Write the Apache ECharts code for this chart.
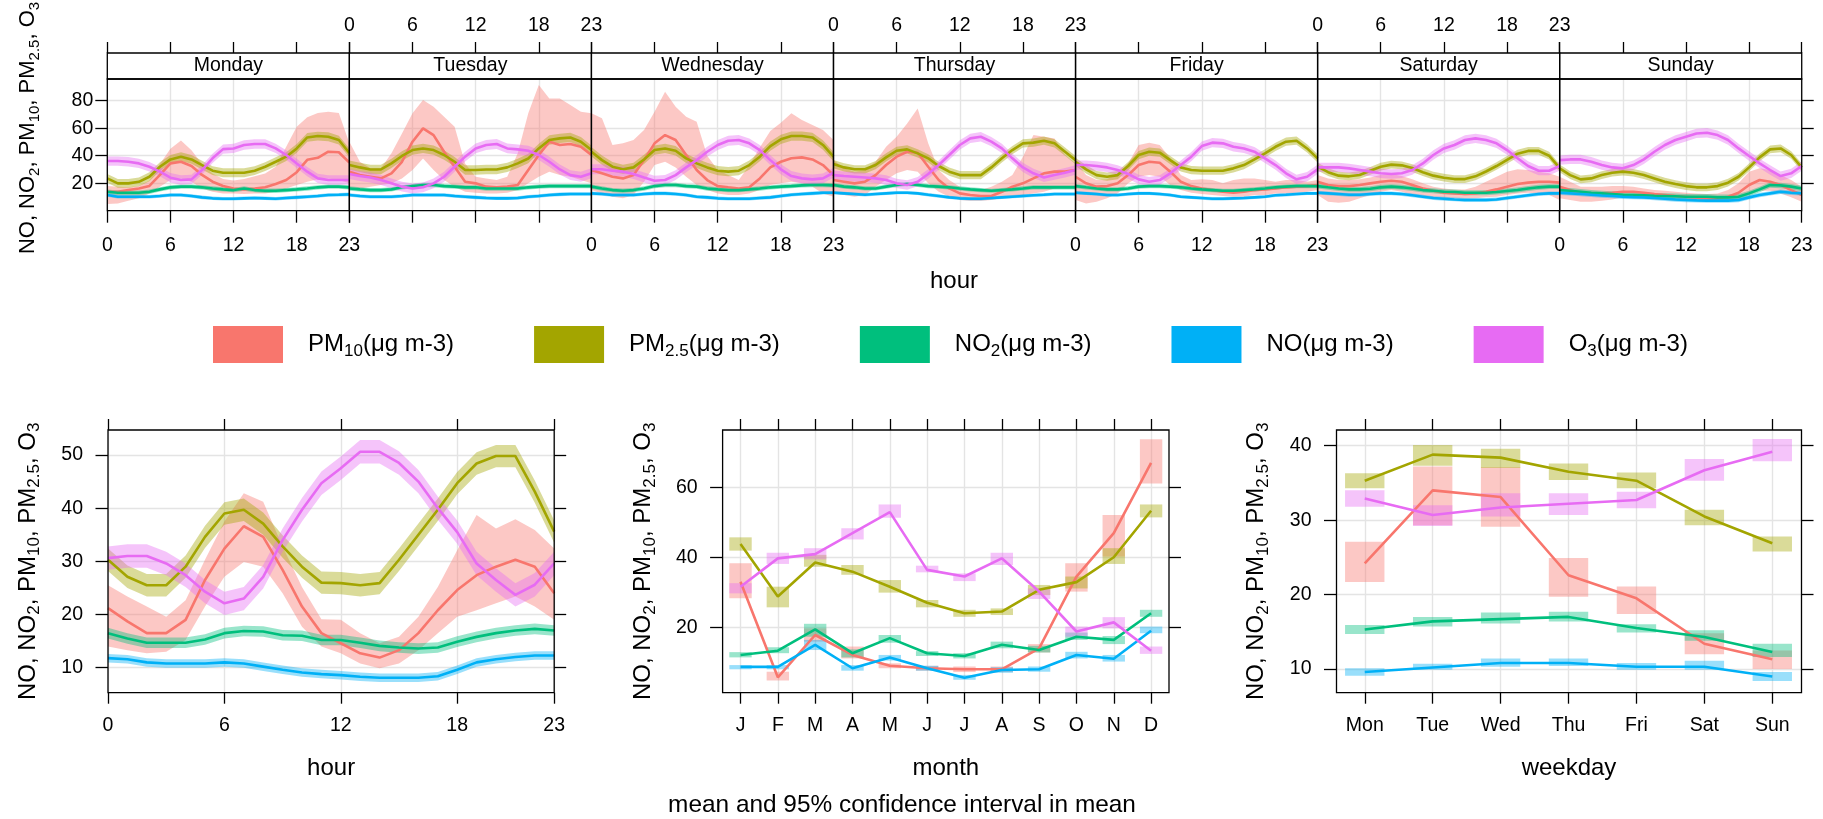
<!DOCTYPE html>
<html><head><meta charset="utf-8">
<script src="https://cdn.jsdelivr.net/npm/echarts@6/dist/echarts.min.js"></script>
<style>html,body{margin:0;padding:0;background:#fff}#c{width:1823px;height:819px}</style>
</head><body><div id="c"></div>
<script>
// ---------------- DATA ----------------
const hours = [0,1,2,3,4,5,6,7,8,9,10,11,12,13,14,15,16,17,18,19,20,21,22,23];
const hourTicks = [0,6,12,18,23];
const days = ['Monday','Tuesday','Wednesday','Thursday','Friday','Saturday','Sunday'];
const months = ['J','F','M','A','M','J','J','A','S','O','N','D'];
const monthPos = [1,2,3,4,5,6,7,8,9,10,11,12];
const weekdays = ['Mon','Tue','Wed','Thu','Fri','Sat','Sun'];
const weekdayPos = [1,2,3,4,5,6,7];
const pollutants = ['PM10','PM2.5','NO2','NO','O3'];
const colours = ['#F8766D','#A3A500','#00BF7D','#00B0F6','#E76BF3'];

// day x hour (top panel)
const wk_PM10 = [
 [13.8,13.8,15,16.2,18,26,34.4,35.6,32.5,26,21.1,18,16.2,15.5,16.2,17,19.4,22.3,28,37,38.5,42.9,42.5,35],
 [28.4,25.9,24.7,23.5,27.2,35.6,50.2,59.9,55,42.9,32,21.1,19.9,17.5,17,17.5,18.7,29.6,40.5,50.2,47.8,48.5,46.5,40.5],
 [29.6,27.2,24.7,23.5,25.9,36.8,49,55,51.4,40.5,29.6,22.3,17.9,17,16.2,17,23.5,31.5,35.6,38.1,38.8,37.3,33.2,25.9],
 [22.3,21.1,19.9,21.1,25.9,33.2,39.3,42.9,42.2,32,22.3,16.2,12.6,11.4,10.7,10.7,13.8,17.5,19.9,23.5,27.2,28.4,28.4,29.6],
 [24.7,19.9,17.5,17.9,19.9,25.9,33.2,35.6,34.9,28.4,21.1,17.9,16.2,15,13.8,13.1,13.8,15,15.5,16.2,17,17.5,17.9,18.7],
 [21.1,18.7,17.9,17.9,18.7,19.9,21.1,21.8,21.1,18.7,16.2,14.5,13.1,12.6,12.1,12.6,13.8,15.5,17.5,19.4,20.4,21.1,21.1,20.4],
 [17.5,15,12.6,12.1,12.6,13.1,13.8,13.8,13.1,12.1,11.4,10.7,10.2,9.7,9,9,10.2,13.1,18.7,22.3,21.1,18.7,15,11.4]];
const wk_PM10_hi = [
 [18,17.5,17,18,22,34,45,51,44,34,27,23,22,23,25,27,32,46.5,61,68,71,72,71,49],
 [50.2,35.6,30.8,30.8,41.7,56.2,70.8,80.5,75.6,68.4,61.1,34.4,24.7,23.5,22.3,24.7,41.7,70.8,91.4,81.7,81.7,76.8,72,70.8],
 [70.8,67.2,47.8,49,51.4,58.7,72,86.5,75.6,68.4,64.7,40,29.6,26,22.3,33,46,58,64,70.8,66,62.3,58.7,51.4],
 [36.8,30.8,28.4,29.6,35.6,46.5,53.8,63.5,74.4,49,29.6,22.3,17.5,15,15,17.5,21.1,25.9,39.3,55,53.8,52.6,40.5,34.4],
 [35.6,25.9,22.3,22.8,27.2,34.4,47.8,49.5,47.8,38.1,25.9,22.3,22.8,22.3,19.9,22.3,23.5,23.5,22.3,21.1,22.3,22.3,21.1,22.3],
 [25.9,23.5,22.3,22.3,22.8,24.2,25.9,26.7,25.2,22.8,19.9,17.5,16.2,15.5,15.5,17.5,21.1,24.7,28.4,30.1,29.6,28.4,27.2,24.7],
 [24.7,21.1,17.5,17.5,17.5,17.9,17.9,17.5,16.2,15,14.5,13.8,13.1,12.6,12.1,12.6,15,19.9,28.4,30.8,29.6,25.9,22.3,17.5]];
const wk_PM10_lo = [
 [4.8,5.3,7.3,9,12.6,17.5,22.3,23.5,21.1,16.2,13.8,12.6,12.6,12.1,12.6,12.6,13.8,16.2,18.7,21.1,22.8,23.5,22.3,19.9],
 [15,16.2,17.5,18.7,19.9,23.5,29.6,38,29.6,22.3,17.5,13.8,13.1,12.6,12.6,13.1,15,19.9,24.7,28.4,25.9,24.7,22.3,19.9],
 [15,12.6,10.2,9,11.4,21.1,33.2,35.6,31.5,24.7,18.7,15,12.6,11.4,11.4,12.6,15,18.7,19.9,21.1,19.9,17.5,12.6,10.2],
 [12.6,11.4,10.2,11.4,17.5,22.3,27.2,29.6,28.4,19.9,13.8,10.2,7.8,7.3,7.3,7.8,9,10.2,11.4,12.6,13.8,16.2,17.5,17.9],
 [7.8,5.3,6.5,9,12.6,19.9,24.7,25.9,24.7,18.7,15,13.1,12.1,11.4,10.7,10.2,10.2,11.4,11.4,12.6,12.6,13.1,13.8,15],
 [11.4,6.5,5.8,6.5,9,11.4,13.8,15,13.8,11.4,10.2,9.7,9.2,9,8.7,9,9.7,10.2,11.4,12.6,13.1,12.6,11.4,7.8],
 [9,7.8,6.5,6.5,7.3,8.2,9.7,9.7,9,8.2,7.8,7.3,7.3,7,6.5,6.5,7,8.7,11.4,14.5,14.5,12.6,9.7,6.5]];
const wk_PM25 = [
 [23.5,19.9,19.9,21,24.7,32,37.3,39.3,37.3,33.2,29.1,27.6,27.6,27.6,29.1,32,35.6,39.3,45.3,53.3,54.3,53.8,51.4,42],
 [33.2,31.5,30,30,34.4,39.8,44.1,45.3,44.1,40.5,35.6,29.6,29.6,30,30,31.5,34.4,38,45.3,51.4,52.6,53.3,50.2,44.1],
 [42.9,36.8,32,30.1,31.5,37.3,44.1,45.3,43.6,38.1,34.4,31.5,29.1,28.4,29.1,33.2,39.3,47,51.9,54.3,54.3,53.3,47.8,39.3],
 [33.9,31.5,30.1,30.1,33.2,38.8,43.6,44.6,41.7,38.1,32.5,28.4,25.9,25.9,25.9,31.5,38.1,44.1,49,49.5,50.9,49,42.9,36.8],
 [35.6,30.1,25.9,24.7,25.9,32.5,40.5,42.9,42.2,36.8,31.5,29.6,29.1,29.1,29.1,30.8,33.2,37.3,41.7,46.5,50.2,50.9,45.3,38.1],
 [32,28,25.5,25,26,29,32,33.5,33,31,28,25.5,24,23,23,25,28.5,32.5,37,41.5,43.5,43.5,40,31],
 [30.8,25.9,22.8,23.5,25.9,27.6,28.4,27.6,25.9,23.5,21.1,19.4,17.9,17,17,17.9,20.4,24.7,31.5,38.8,44.6,45.3,40.5,31.5]];
const wk_NO2 = [
 [13.8,13.1,13.1,13.1,13.8,15.5,17,17.5,17.5,17,16.2,15.5,15,16.2,15,14.5,14.5,15,15.5,16.2,17,17.5,17.5,17],
 [16.2,15.5,15,15,15.5,17,17.9,18.7,18.7,17.9,17.5,17,17,16.2,16.2,16.2,16.2,17,17.5,17.9,17.9,17.9,17.9,17.9],
 [17.5,16.2,15,14.5,15,16.2,17.9,18.7,18.7,17.9,17.5,16.2,15.5,15,15,15.5,16.2,17,17.5,17.9,18.4,18.7,18.7,18.4],
 [18.7,17.5,17,16.2,16.2,17.5,18.7,19.4,18.7,17.9,17.5,17,16.2,15.5,15,14.5,15,15.5,16.2,17,17,17,17,17],
 [17.9,17,16.2,15.5,15.5,16.2,17.5,17.9,17.9,17.5,17,16.2,15.5,15,14.5,14.5,15,15.5,16.2,17,17.5,17.9,17.9,17.9],
 [17.9,17,16.2,15.5,15.5,16,17,17.5,17,16.2,15,14.5,13.8,13.6,13.1,13.1,13.1,13.6,14.3,15,16.2,17,17.5,17.5],
 [15,14.5,13.8,13.1,12.6,12.1,11.6,11.4,11.2,10.9,10.7,10.5,10.2,10.2,10.2,9.7,9.7,10.2,12.6,15.5,18.7,18.4,17.5,16.2]];
const wk_NO = [
 [11.4,10.2,10.2,10.2,10.2,10.7,11.4,11.4,10.7,9.7,9,8.7,8.7,9,9.2,9,8.7,9.2,9.7,10.2,10.7,11.4,11.6,11.9],
 [11.4,10.7,10.2,10.2,10.2,10.7,11.4,11.4,11.4,11.4,10.7,10.2,9.7,9.2,9,9,9.2,10.2,10.7,11.4,11.9,12.1,12.1,12.1],
 [12.6,12.1,11.4,11.4,11.4,12.1,12.6,12.6,12.1,11.4,10.2,9.7,9,8.7,8.7,8.7,9.2,9.7,10.7,11.6,12.1,12.6,13.1,13.1],
 [13.1,12.6,12.1,11.6,12.1,12.6,13.1,13.1,12.6,11.6,10.7,9.7,9,8.7,8.7,9.2,9.7,10.2,10.7,11.2,11.6,12.1,12.1,12.1],
 [13.1,12.6,12.1,11.4,11.4,12.1,12.6,12.6,12.1,11.4,10.2,9.7,9.2,8.7,8.7,9,9.2,9.7,10.2,11.2,11.6,12.1,12.6,12.6],
 [13.1,12.6,12.1,11.6,11.6,12.1,12.6,12.6,12.1,11.2,10.2,9.2,8.7,8.2,7.8,7.8,7.8,8.2,9.2,10.2,11.2,12.1,12.6,12.6],
 [13.1,12.6,12.1,11.6,11.1,10.7,10.2,9.9,9.7,9.2,8.7,8.2,7.8,7.5,7.3,7.3,7.3,7.8,9.7,11.4,12.6,13.8,13.1,12.6]];
const wk_O3 = [
 [36.1,36.1,35.6,34.4,32,28.4,24,22.3,22.8,29.6,38.1,44.8,45.3,47.8,48.5,48.5,45.3,40.5,34.4,28.4,23.5,22.3,22.3,22.3],
 [26.7,25.2,24.2,22.3,19.9,17.5,16.2,17,19.9,24.7,32,39.3,45.3,47.8,48.5,45.3,44.6,43.6,40.5,35.6,30,25.9,24.7,27.2],
 [30.1,30.1,29.1,28.4,26.7,24.2,21.8,22.3,25.9,31.5,36.8,42.9,47.8,50.9,51.4,49,44.1,36.8,30.1,25.2,23.5,22.8,23.5,27.6],
 [25.9,25.2,24.7,24.2,23.5,22.3,19.9,18.7,21.1,26.7,33.2,40.5,47.8,52.6,53.8,50.2,45.3,38.1,31.5,27.2,24.2,25.9,27.6,29.6],
 [33.2,33.2,32.5,31.5,29.6,26.7,22.8,21.1,22.3,27.2,33.2,39.3,47,49.5,49,46.5,45.3,42.9,38.1,33.2,27.2,22.8,24.7,30.1],
 [31.5,31.5,31.5,30.8,29.6,28.4,27.2,26.7,27.2,29.6,34.4,40.5,45.3,47.8,51.4,52.6,51.4,49,44.1,38.1,32.5,29.1,29.1,32.5],
 [36.8,37.3,37.3,35.6,33.2,31.5,30.8,33.2,37.3,42.9,47.8,51.4,53.8,56.2,56.7,55,51.4,45.3,39.8,34.4,29.6,25.2,27.2,32.5]];
// half-width of the 95% CI (read per day)
const wk_PM25_ci = [3.2,3.4,3.4,3.0,3.0,2.8,2.8];
const wk_NO2_ci  = [1.6,1.6,1.6,1.5,1.5,1.8,2.0];
const wk_NO_ci   = [1.3,1.3,1.3,1.2,1.2,1.4,1.6];
const wk_O3_ci   = [3.4,3.6,3.6,3.4,3.4,3.4,3.4];

// hour panel
const hr_PM10    = [21.2,18.7,16.5,16.5,19,26.5,32.4,36.6,34.6,28.4,21.5,16.5,14.6,12.7,11.9,13.3,16.5,20.8,24.6,27.4,29,30.3,29,24];
const hr_PM10_hi = [25.5,23.4,21.5,19.6,22.7,30.3,37.5,42.8,41.2,32.8,25.2,19.1,19,16.5,14.6,15.8,19.6,25.2,32.1,38.7,36.2,37.9,35.9,32.4];
const hr_PM10_lo = [14,13.3,12.7,13,15.2,21.5,27.1,29.9,29,24,17.7,14,12.7,10.8,9.9,10.8,13.3,16.5,19.6,20.8,22.1,23.4,21.5,19];
const hr_PM25 = [30.3,27.1,25.5,25.5,29,34.6,39,39.7,37.1,32.8,29,26,25.9,25.5,25.9,30.3,35,39.7,44.7,48.4,49.8,49.8,43.1,35.6];
const hr_NO2  = [16.5,15.5,14.7,14.7,14.7,15.3,16.5,16.9,16.8,16.1,16,15.2,15.2,14.7,14.1,13.8,13.6,13.8,14.9,15.8,16.5,17,17.3,17];
const hr_NO   = [11.8,11.6,11,10.8,10.8,10.8,11,10.8,10.2,9.6,9.1,8.8,8.6,8.3,8.1,8.1,8.1,8.4,9.6,11,11.6,12,12.3,12.3];
const hr_O3   = [30.6,31,31,29.6,27.4,24.3,22.1,23,27.1,34,39.7,44.7,47.5,50.6,50.6,48.5,45,40,35.5,29.6,26.5,23.7,25.6,29.6];
const hr_PM25_ci = 2.1, hr_NO2_ci = 1.0, hr_NO_ci = 0.8, hr_O3_ci = 2.2;

// month panel
const mo_PM10    = [33.0,5.7,17.8,12.1,9.0,8.3,8.0,8.0,14.0,34.5,46.9,67.0];
const mo_PM10_lo = [28.3,4.8,15.9,11.1,8.3,7.6,7.2,7.2,12.8,30.2,40.2,61.1];
const mo_PM10_hi = [38.3,7.3,19.7,14.5,9.7,9.0,8.8,8.8,15.2,38.3,52.1,73.7];
const mo_PM25    = [43.8,28.8,38.5,35.9,31.6,27.0,24.0,24.5,30.7,32.9,40.0,53.3];
const mo_PM25_lo = [41.9,25.7,37.3,35.0,29.9,25.7,23.0,23.5,29.2,31.1,38.1,51.4];
const mo_PM25_hi = [45.7,31.6,40.7,37.8,33.5,27.8,25.0,25.4,32.1,34.5,42.6,55.1];
const mo_NO2     = [12.1,13.3,19.4,12.6,16.9,12.6,11.8,15.0,13.5,17.3,16.4,24.0];
const mo_NO2_lo  = [11.4,12.6,17.3,11.4,15.6,11.8,11.1,14.0,12.8,16.4,15.2,23.0];
const mo_NO2_hi  = [12.9,14.3,21.0,13.7,17.8,13.2,12.6,15.9,14.7,18.5,17.5,25.0];
const mo_NO      = [8.7,8.7,15.0,8.3,11.4,8.3,5.6,7.8,8.0,12.1,11.0,19.0];
const mo_NO_lo   = [8.0,8.0,13.5,7.6,10.5,7.6,5.0,7.0,7.3,11.1,10.2,18.3];
const mo_NO_hi   = [9.2,9.2,16.4,9.2,12.1,9.0,6.4,8.6,8.8,13.0,12.1,20.2];
const mo_O3      = [31.6,39.7,40.9,46.9,52.9,36.4,34.5,39.7,30.2,18.8,21.4,13.3];
const mo_O3_lo   = [29.7,38.1,39.4,45.1,51.3,35.7,33.2,37.8,28.1,17.3,19.7,12.4];
const mo_O3_hi   = [32.6,41.3,42.6,48.3,55.1,37.6,35.4,41.3,31.1,20.2,22.9,14.5];

// weekday panel
const wd_PM10    = [24.2,34.0,33.1,22.6,19.5,13.4,11.3];
const wd_PM10_lo = [21.7,29.3,29.1,19.7,17.4,12.0,10.0];
const wd_PM10_hi = [27.1,37.2,37.1,24.9,21.1,14.8,12.5];
const wd_PM25    = [35.3,38.8,38.4,36.5,35.3,30.5,26.9];
const wd_PM25_lo = [34.3,37.3,37.0,35.4,34.3,29.3,25.8];
const wd_PM25_hi = [36.3,40.1,39.6,37.6,36.4,31.4,27.8];
const wd_NO2     = [15.3,16.4,16.7,17.0,15.5,14.3,12.3];
const wd_NO2_lo  = [14.7,15.7,16.1,16.4,14.9,13.8,11.6];
const wd_NO2_hi  = [15.9,17.0,17.6,17.7,16.0,15.2,13.4];
const wd_NO      = [9.6,10.2,10.8,10.8,10.3,10.3,9.0];
const wd_NO_lo   = [9.1,9.9,10.3,10.4,9.9,9.9,8.4];
const wd_NO_hi   = [10.1,10.7,11.4,11.4,10.8,11.1,9.6];
const wd_O3      = [32.9,30.7,31.7,32.2,32.7,36.7,39.2];
const wd_O3_lo   = [31.8,29.2,30.5,30.7,31.6,35.3,37.9];
const wd_O3_hi   = [34.0,32.0,33.6,33.6,33.8,38.2,40.9];

const topYTicks = [20,40,60,80];
const hrYTicks = [10,20,30,40,50];
const moYTicks = [20,40,60];
const wdYTicks = [10,20,30,40];

// ---------------- BUILD ----------------
const FONT = "'Liberation Sans', Arial, Helvetica, sans-serif";
const BAND_ALPHA = 0.4;
const GRIDLINE = '#e4e4e4';
const LW = 2.6;
function rgba(hex, a){
  return 'rgba(' + parseInt(hex.slice(1,3),16) + ',' + parseInt(hex.slice(3,5),16) + ',' + parseInt(hex.slice(5,7),16) + ',' + a + ')';
}
const option = {animation:false, backgroundColor:'#fff', grid:[], xAxis:[], yAxis:[], series:[], graphic:[]};
const G = option.graphic;

function addGrid(l,t,w,h){
  option.grid.push({left:l, top:t, width:w, height:h, containLabel:false, outerBoundsMode:'none', show:false});
  return option.grid.length-1;
}
const TICK = {color:'#000', width:1.3};
const LBL = {color:'#000', fontSize:19.5, fontFamily:FONT};
function addX(g, o){
  const ax = {gridIndex:g, type:'value', min:o.min, max:o.max, position:o.pos||'bottom', offset:o.offset||0,
    axisLine:{show:false, onZero:false},
    axisTick:{show:o.ticks!==false, length:o.tlen||11, customValues:o.values, lineStyle:TICK},
    axisLabel:Object.assign({show:!!o.labels, customValues:o.values, margin:o.margin||23, formatter:o.fmt}, LBL),
    splitLine:{show:!!o.split, lineStyle:{color:GRIDLINE, width:1.4}}};
  if(!o.fmt) delete ax.axisLabel.formatter;
  option.xAxis.push(ax); return option.xAxis.length-1;
}
function addY(g, o){
  option.yAxis.push({gridIndex:g, type:'value', min:o.min, max:o.max, position:o.pos||'left',
    axisLine:{show:false, onZero:false},
    axisTick:{show:!!o.ticks, length:o.tlen||12, customValues:o.values, lineStyle:TICK},
    axisLabel:Object.assign({show:!!o.labels, customValues:o.values, margin:o.margin||24}, LBL),
    splitLine:{show:!!o.split, lineStyle:{color:GRIDLINE, width:1.4}}});
  return option.yAxis.length-1;
}
function band(xi, yi, xs, lo, hi, col){
  return {type:'custom', xAxisIndex:xi, yAxisIndex:yi, silent:true, z:2,
    data: xs.map((x,k)=>[x, lo[k], hi[k]]), encode:{x:0, y:[1,2]},
    renderItem:(params, api)=>{
      if(params.dataIndex!==0) return null;
      const pts=[];
      for(let k=0;k<xs.length;k++) pts.push(api.coord([xs[k], hi[k]]));
      for(let k=xs.length-1;k>=0;k--) pts.push(api.coord([xs[k], lo[k]]));
      return {type:'polygon', shape:{points:pts}, style:{fill:rgba(col,BAND_ALPHA)}};
    }};
}
function boxes(xi, yi, xs, lo, hi, col, hw){
  return {type:'custom', xAxisIndex:xi, yAxisIndex:yi, silent:true, z:2,
    data: xs.map((x,k)=>[x, lo[k], hi[k]]), encode:{x:0, y:[1,2]},
    renderItem:(params, api)=>{
      const x=api.value(0), l=api.value(1), h=api.value(2);
      const a=api.coord([x-hw, h]), b=api.coord([x+hw, l]);
      return {type:'rect', shape:{x:a[0], y:a[1], width:b[0]-a[0], height:b[1]-a[1]}, style:{fill:rgba(col,BAND_ALPHA)}};
    }};
}
function line(xi, yi, xs, ys, col, name, w){
  return {type:'line', name:name, xAxisIndex:xi, yAxisIndex:yi, silent:true, z:2,
    data: xs.map((x,k)=>[x, ys[k]]), symbol:'none', showSymbol:false,
    lineStyle:{color:col, width:w||LW}, itemStyle:{color:col}};
}
function borderRect(x,y,w,h){
  G.push({type:'rect', z:100, silent:true, shape:{x:x, y:y, width:w, height:h}, style:{fill:null, stroke:'#000', lineWidth:1.3}});
}
function txt(x,y,s,size,extra){
  G.push(Object.assign({type:'text', z:100, silent:true, x:x, y:y,
    style:{text:s, fontSize:size, fontFamily:FONT, fill:'#000', align:'center', verticalAlign:'middle', textAlign:'center', textVerticalAlign:'middle'}}, extra||{}));
}
const RICH = (size)=>({
  m:{fontSize:size, fontFamily:FONT, color:'#000', lineHeight:size+6, verticalAlign:'middle'},
  s:{fontSize:Math.round(size*0.7), fontFamily:FONT, color:'#000', lineHeight:Math.round(size*0.7), verticalAlign:'bottom'},
  sp:{width:20}
});
const YTITLE = '{m|NO, NO}{s|2}{m|, PM}{s|10}{m|, PM}{s|2.5}{m|, O}{s|3}';
function ytitle(x,y,size){
  G.push({type:'text', z:100, silent:true, x:x, y:y, rotation:Math.PI/2,
    style:{text:YTITLE, rich:RICH(size), fontSize:size, fontFamily:FONT, fill:'#000', align:'center', verticalAlign:'middle', textAlign:'center', textVerticalAlign:'middle'}});
}

// ---- top: day x hour panels ----
const TL = 107.3, TW = 242.06, TT = 79, TH = 131.7, STRIP_T = 53;
const wkMean = [wk_PM10, wk_PM25, wk_NO2, wk_NO, wk_O3];
const wkCi = [null, wk_PM25_ci, wk_NO2_ci, wk_NO_ci, wk_O3_ci];
for(let d=0; d<7; d++){
  const L = TL + d*TW;
  const g = addGrid(L, TT, TW, TH);
  const xb = addX(g, {min:0, max:23, values:hourTicks, labels:d%2===0, split:true, tlen:12, margin:25});
  addX(g, {min:0, max:23, values:hourTicks, labels:d%2===1, pos:'top', offset:TT-STRIP_T, tlen:11, margin:17});
  const yi = addY(g, {min:0, max:95.8, values:topYTicks, split:true, ticks:(d===0||d===6), labels:d===0, pos:d===6?'right':'left', margin:14});
  for(let p=0;p<5;p++){
    let lo, hi;
    if(p===0){ lo = wk_PM10_lo[d]; hi = wk_PM10_hi[d]; }
    else { const m = wkMean[p][d], c = wkCi[p][d]; lo = m.map(v=>v-c); hi = m.map(v=>v+c); }
    option.series.push(band(xb, yi, hours, lo, hi, colours[p]));
    option.series.push(line(xb, yi, hours, wkMean[p][d], colours[p], pollutants[p]));
  }
  borderRect(L, STRIP_T, TW, TT-STRIP_T);
  borderRect(L, TT, TW, TH);
  txt(L+TW/2, 66, days[d], 19.5);
}
ytitle(28, 128, 22);
txt(954, 281, 'hour', 24);

// ---- bottom-left: hour ----
const BT = 430, BH = 262.7;
{
  const L=108, W=446.2;
  const g = addGrid(L, BT, W, BH);
  const xb = addX(g, {min:0, max:23, values:hourTicks, labels:true, split:true, tlen:11, margin:23});
  addX(g, {min:0, max:23, values:hourTicks, pos:'top', tlen:11});
  const yi = addY(g, {min:5.3, max:54.7, values:hrYTicks, labels:true, ticks:true, split:true, tlen:12.5, margin:25});
  addY(g, {min:5.3, max:54.7, values:hrYTicks, ticks:true, pos:'right', tlen:12});
  const means = [hr_PM10, hr_PM25, hr_NO2, hr_NO, hr_O3];
  const cis = [null, hr_PM25_ci, hr_NO2_ci, hr_NO_ci, hr_O3_ci];
  for(let p=0;p<5;p++){
    let lo, hi;
    if(p===0){ lo = hr_PM10_lo; hi = hr_PM10_hi; }
    else { lo = means[p].map(v=>v-cis[p]); hi = means[p].map(v=>v+cis[p]); }
    option.series.push(band(xb, yi, hours, lo, hi, colours[p]));
    option.series.push(line(xb, yi, hours, means[p], colours[p], pollutants[p]));
  }
  borderRect(L, BT, W, BH);
  ytitle(28, BT+BH/2, 24);
  txt(L+W/2, 768, 'hour', 24);
}
// ---- bottom-middle: month ----
{
  const L=722.6, W=446.4;
  const g = addGrid(L, BT, W, BH);
  const xb = addX(g, {min:0.52, max:12.48, values:monthPos, labels:true, split:true, tlen:11, margin:23, fmt:(v)=>months[Math.round(v)-1]});
  addX(g, {min:0.52, max:12.48, values:monthPos, pos:'top', tlen:11});
  const yi = addY(g, {min:1.31, max:76.37, values:moYTicks, labels:true, ticks:true, split:true, tlen:12.5, margin:25});
  addY(g, {min:1.31, max:76.37, values:moYTicks, ticks:true, pos:'right', tlen:12});
  const m = [mo_PM10, mo_PM25, mo_NO2, mo_NO, mo_O3];
  const lo = [mo_PM10_lo, mo_PM25_lo, mo_NO2_lo, mo_NO_lo, mo_O3_lo];
  const hi = [mo_PM10_hi, mo_PM25_hi, mo_NO2_hi, mo_NO_hi, mo_O3_hi];
  for(let p=0;p<5;p++){
    option.series.push(boxes(xb, yi, monthPos, lo[p], hi[p], colours[p], 0.3));
    option.series.push(line(xb, yi, monthPos, m[p], colours[p], pollutants[p]));
  }
  borderRect(L, BT, W, BH);
  ytitle(643.5, BT+BH/2, 24);
  txt(L+W/2, 768, 'month', 24);
  txt(902, 805, 'mean and 95% confidence interval in mean', 24.4);
}
// ---- bottom-right: weekday ----
{
  const L=1336.5, W=465;
  const g = addGrid(L, BT, W, BH);
  const xb = addX(g, {min:0.584, max:7.43, values:weekdayPos, labels:true, split:true, tlen:11, margin:23, fmt:(v)=>weekdays[Math.round(v)-1]});
  addX(g, {min:0.584, max:7.43, values:weekdayPos, pos:'top', tlen:11});
  const yi = addY(g, {min:6.82, max:42.11, values:wdYTicks, labels:true, ticks:true, split:true, tlen:12.5, margin:25});
  addY(g, {min:6.82, max:42.11, values:wdYTicks, ticks:true, pos:'right', tlen:12});
  const m = [wd_PM10, wd_PM25, wd_NO2, wd_NO, wd_O3];
  const lo = [wd_PM10_lo, wd_PM25_lo, wd_NO2_lo, wd_NO_lo, wd_O3_lo];
  const hi = [wd_PM10_hi, wd_PM25_hi, wd_NO2_hi, wd_NO_hi, wd_O3_hi];
  for(let p=0;p<5;p++){
    option.series.push(boxes(xb, yi, weekdayPos, lo[p], hi[p], colours[p], 0.29));
    option.series.push(line(xb, yi, weekdayPos, m[p], colours[p], pollutants[p]));
  }
  borderRect(L, BT, W, BH);
  ytitle(1256.5, BT+BH/2, 24);
  txt(L+W/2, 768, 'weekday', 24);
}

// ---- legend ----
const legendLabels = {
  'PM10':'{sp| }{m|PM}{s|10}{m|(μg m-3)}',
  'PM2.5':'{sp| }{m|PM}{s|2.5}{m|(μg m-3)}',
  'NO2':'{sp| }{m|NO}{s|2}{m|(μg m-3)}',
  'NO':'{sp| }{m|NO(μg m-3)}',
  'O3':'{sp| }{m|O}{s|3}{m|(μg m-3)}'
};
option.legend = {
  left:213, top:326, orient:'horizontal', itemWidth:70, itemHeight:37, itemGap:80, icon:'rect',
  selectedMode:false, padding:0,
  data: pollutants.map((p,i)=>({name:p, icon:'rect', itemStyle:{color:colours[i], borderWidth:0, opacity:1}})),
  formatter:(n)=>legendLabels[n],
  textStyle:{fontSize:24, fontFamily:FONT, color:'#000', rich:RICH(24)}
};

const chart = echarts.init(document.getElementById('c'), null, {renderer:'canvas', width:1823, height:819});
chart.setOption(option);
</script></body></html>
